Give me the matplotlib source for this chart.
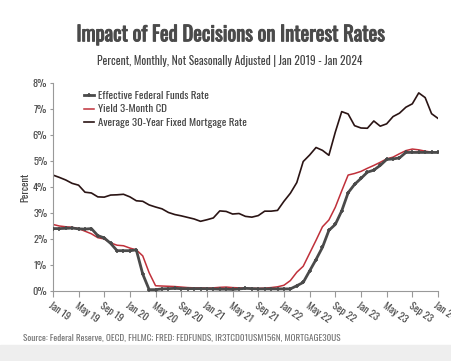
import matplotlib
matplotlib.use("Agg")
import matplotlib.pyplot as plt
import matplotlib.patheffects as pe
from matplotlib import font_manager as fm

names = {f.name for f in fm.fontManager.ttflist}
FONT = "DejaVu Sans"
for cand in ["Oswald", "Pathway Gothic One", "Barlow Condensed", "Archivo Narrow"]:
    if cand in names:
        FONT = cand
        break
plt.rcParams['font.family'] = [FONT, 'DejaVu Sans']

tick_labels = ["Jan 19", "May 19", "Sep 19", "Jan 20", "May 20", "Sep 20", "Jan 21",
               "May 21", "Sep 21", "Jan 22", "May 22", "Sep 22", "Jan 23", "May 23",
               "Sep 23", "Jan 24"]

# Monthly values Jan 2019 .. Jan 2024
fed_funds = [2.40, 2.40, 2.41, 2.42, 2.39, 2.38, 2.40, 2.13, 2.04, 1.83, 1.55, 1.55,
             1.55, 1.58, 0.65, 0.05, 0.05, 0.08, 0.09, 0.10, 0.09, 0.09, 0.09, 0.09,
             0.09, 0.08, 0.07, 0.07, 0.06, 0.08, 0.10, 0.09, 0.08, 0.08, 0.08, 0.08,
             0.08, 0.08, 0.20, 0.33, 0.77, 1.21, 1.68, 2.33, 2.56, 3.08, 3.78, 4.10,
             4.33, 4.57, 4.65, 4.83, 5.06, 5.08, 5.12, 5.33, 5.33, 5.33, 5.33, 5.33,
             5.33]
cd_yield = [2.56, 2.50, 2.47, 2.45, 2.40, 2.30, 2.20, 2.05, 2.00, 1.85, 1.76, 1.74,
            1.65, 1.58, 1.35, 0.70, 0.20, 0.19, 0.18, 0.17, 0.15, 0.13, 0.12, 0.12,
            0.11, 0.12, 0.14, 0.15, 0.13, 0.12, 0.11, 0.10, 0.10, 0.11, 0.13, 0.16,
            0.22, 0.40, 0.72, 0.95, 1.45, 1.95, 2.47, 2.73, 3.22, 3.85, 4.46, 4.52,
            4.60, 4.72, 4.83, 4.95, 5.08, 5.15, 5.28, 5.40, 5.46, 5.43, 5.38, 5.34]
mortgage = [4.46, 4.37, 4.27, 4.14, 4.07, 3.80, 3.77, 3.62, 3.61, 3.69, 3.70, 3.72,
            3.62, 3.47, 3.45, 3.31, 3.23, 3.16, 3.02, 2.94, 2.89, 2.83, 2.77, 2.68,
            2.74, 2.81, 3.08, 3.06, 2.96, 2.98, 2.87, 2.84, 2.90, 3.07, 3.07, 3.10,
            3.45, 3.76, 4.17, 4.98, 5.23, 5.52, 5.41, 5.22, 6.11, 6.90, 6.81, 6.36,
            6.27, 6.26, 6.54, 6.34, 6.43, 6.71, 6.84, 7.07, 7.20, 7.62, 7.44, 6.82,
            6.64]

fig = plt.figure(figsize=(4.52, 3.61), dpi=100)
fig.patch.set_facecolor("white")
ax = fig.add_axes([0.117, 0.194, 0.852, 0.576])

x_fed = list(range(len(fed_funds)))
x_cd = list(range(len(cd_yield)))
x_mort = list(range(len(mortgage)))

ax.plot(x_fed, fed_funds, color="#4a4a4a", lw=2.0, marker="+", ms=3.5, mew=1.2,
        label="Effective Federal Funds Rate", zorder=3)
ax.plot(x_cd, cd_yield, color="#c0303a", lw=1.1, label="Yield 3-Month CD", zorder=2)
ax.plot(x_mort, mortgage, color="#2a1414", lw=1.2,
        label="Average 30-Year Fixed Mortgage Rate", zorder=2)

ax.set_xlim(0, 60)
ax.set_ylim(0, 8)
ax.set_xticks(range(0, 61, 4))
ax.set_xticklabels(tick_labels, rotation=-35, ha="left", va="top",
                   rotation_mode="anchor", fontsize=7.5, color="#4a4a4a",
                   fontweight="light")
ax.set_yticks(range(0, 9))
ax.set_yticklabels([f"{v}%" for v in range(0, 9)], fontsize=7.5, color="#4a4a4a",
                   fontweight="light")
ax.tick_params(axis="x", length=4, color="#999999", pad=3)
ax.tick_params(axis="y", length=2, color="#999999", pad=2)
for s in ["top", "right"]:
    ax.spines[s].set_visible(False)
for s in ["left", "bottom"]:
    ax.spines[s].set_color("#999999")
    ax.spines[s].set_linewidth(0.8)
ax.set_ylabel("Percent", fontsize=7.5, color="#444444", labelpad=2,
              fontweight="light")

leg = ax.legend(loc="upper left", bbox_to_anchor=(0.055, 1.01), frameon=False,
                handlelength=0.9, labelspacing=0.35, handletextpad=0.4,
                prop={"family": [FONT, "DejaVu Sans"], "size": 7.8, "weight": "light"})
for t in leg.get_texts():
    t.set_color("#444444")

title = fig.text(0.51, 0.905, "Impact of Fed Decisions on Interest Rates", ha="center",
                 va="center", fontsize=14.8, fontweight="bold", color="#4a4a4a")
title.set_path_effects([pe.withStroke(linewidth=0.7, foreground="#4a4a4a")])
fig.text(0.508, 0.83, "Percent, Monthly, Not Seasonally Adjusted | Jan 2019 - Jan 2024",
         ha="center", va="center", fontsize=8.2, color="#444444", fontweight="light")
fig.text(0.05, 0.063, "Source: Federal Reserve, OECD, FHLMC; FRED: FEDFUNDS, IR3TCD01USM156N, MORTGAGE30US",
         ha="left", va="center", fontsize=6.6, color="#777777", fontweight="light")

fig.patches.append(plt.Rectangle((0, 0), 1, 0.045, transform=fig.transFigure,
                                 color="#eeeeee", zorder=-1))

fig.savefig("out.png", dpi=100)
